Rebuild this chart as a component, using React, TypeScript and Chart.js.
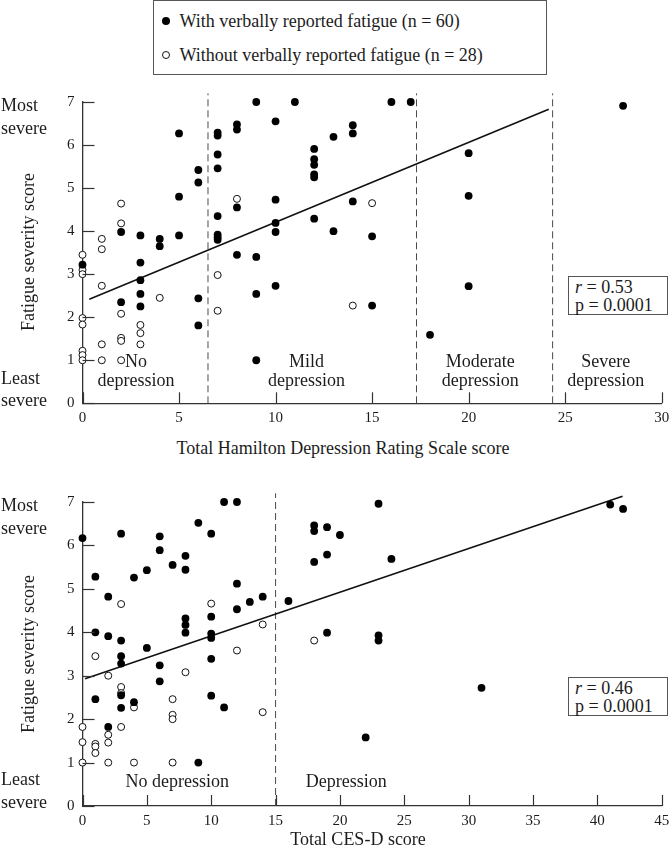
import React, { useEffect, useRef } from 'react';
import Chart from 'chart.js/auto';

// ---------- Data: Hamilton (top panel) ----------
const hamWithX = [0, 2, 2, 3, 3, 3, 3, 3, 4, 4, 5, 5, 5, 6, 6, 6, 6, 7, 7, 7, 7, 7, 7, 7, 7, 8, 8, 8, 8, 9, 9, 9, 9, 10, 10, 10, 10, 10, 11, 12, 12, 12, 12, 12, 12, 13, 13, 14, 14, 14, 15, 15, 16, 17, 18, 20, 20, 20, 28];
const hamWithY = [3.22, 3.98, 2.35, 3.9, 3.27, 2.86, 2.54, 2.25, 3.82, 3.65, 6.27, 4.8, 3.9, 5.42, 5.13, 2.44, 1.81, 6.29, 6.22, 5.78, 5.46, 4.35, 3.92, 3.86, 3.8, 6.48, 6.36, 4.55, 3.45, 7.0, 3.4, 2.54, 1.0, 6.55, 4.73, 4.19, 3.98, 2.73, 7.0, 5.91, 5.67, 5.54, 5.32, 5.25, 4.29, 6.19, 4.0, 6.46, 6.27, 4.69, 3.88, 2.27, 7.0, 7.0, 1.59, 5.81, 4.82, 2.72, 6.91];
const hamWithoutX = [0, 0, 0, 0, 0, 0, 0, 0, 1, 1, 1, 1, 1, 2, 2, 2, 2, 2, 2, 3, 3, 3, 4, 7, 7, 8, 14, 15];
const hamWithoutY = [3.45, 3.1, 3.0, 1.98, 1.83, 1.22, 1.12, 1.0, 3.82, 3.58, 2.73, 1.37, 1.0, 4.64, 4.18, 2.08, 1.52, 1.45, 1.0, 1.82, 1.63, 1.37, 2.45, 2.98, 2.15, 4.75, 2.27, 4.65];
const hamFitX = [0.35, 24.15];
const hamFitY = [2.42, 6.83];
const hamCutoffs = [6.5, 17.3, 24.35];
const hamZoneLabels = [['No', 'depression'], ['Mild', 'depression'], ['Moderate', 'depression'], ['Severe', 'depression']];
const hamStats = ['0.53', '0.0001'];

// ---------- Data: CES-D (bottom panel) ----------
const cesWithX = [0, 1, 1, 1, 2, 2, 2, 3, 3, 3, 3, 3, 3, 4, 4, 5, 5, 6, 6, 6, 6, 7, 8, 8, 8, 8, 8, 9, 9, 10, 10, 10, 10, 10, 10, 11, 11, 12, 12, 12, 13, 14, 16, 18, 18, 18, 19, 19, 19, 20, 22, 23, 23, 23, 24, 31, 41, 42];
const cesWithY = [6.17, 5.28, 4.0, 2.46, 4.82, 3.91, 1.82, 6.27, 3.81, 3.45, 3.28, 2.55, 2.26, 5.26, 2.39, 5.43, 3.64, 6.21, 5.89, 3.24, 2.87, 5.55, 5.76, 5.44, 4.32, 4.17, 3.99, 6.52, 1.0, 6.27, 4.36, 3.97, 3.87, 3.39, 2.54, 7.0, 2.27, 7.0, 5.12, 4.53, 4.7, 4.82, 4.72, 6.46, 6.33, 5.62, 6.42, 5.79, 3.99, 6.24, 1.58, 6.96, 3.93, 3.81, 5.69, 2.72, 6.94, 6.84];
const cesWithoutX = [0, 0, 0, 1, 1, 1, 1, 2, 2, 2, 2, 3, 3, 3, 3, 4, 4, 7, 7, 7, 7, 8, 10, 12, 14, 14, 18];
const cesWithoutY = [1.82, 1.47, 1.0, 3.45, 1.43, 1.37, 1.22, 3.0, 1.64, 1.46, 1.0, 4.65, 2.74, 2.6, 1.82, 2.27, 1.0, 2.46, 2.1, 2.0, 1.0, 3.08, 4.66, 3.58, 4.18, 2.16, 3.81];
const cesFitX = [0.2, 41.96];
const cesFitY = [2.93, 7.13];
const cesCutoffs = [15];
const cesZoneLabels = [['No depression'], ['Depression']];
const cesStats = ['0.46', '0.0001'];

const yTickMax = 7;
const legendLabels = ['With verbally reported fatigue (n = 60)', 'Without verbally reported fatigue (n = 28)'];

const FONT = '"Liberation Serif", "Times New Roman", serif';
const INK = '#1c1c1c';

type ZoneLayout = { x: number; y: number[] };

type PanelProps = {
  top: number;
  height: number;
  areaTop: number;
  areaBottom: number;
  xMax: number;
  withX: number[];
  withY: number[];
  withoutX: number[];
  withoutY: number[];
  fitX: number[];
  fitY: number[];
  cutoffs: number[];
  zoneLabels: string[][];
  zoneLayout: ZoneLayout[];
};

function Panel(p: PanelProps) {
  const ref = useRef<HTMLCanvasElement>(null);
  useEffect(() => {
    if (!ref.current) return;
    const toPts = (xs: number[], ys: number[]) => xs.map((x, i) => ({ x, y: ys[i] }));
    const datasets: any[] = [];
    p.cutoffs.forEach((c) => {
      datasets.push({
        data: [{ x: c, y: 0 }, { x: c, y: 7.2 }],
        showLine: true,
        borderColor: '#4a4a4a',
        borderWidth: 1,
        borderDash: [7, 4],
        pointRadius: 0,
        clip: false,
        order: 3,
      });
    });
    datasets.push({
      data: toPts(p.fitX, p.fitY),
      showLine: true,
      borderColor: '#111',
      borderWidth: 1.6,
      pointRadius: 0,
      clip: false,
      order: 2,
    });
    datasets.push({
      data: toPts(p.withoutX, p.withoutY),
      pointRadius: 3.5,
      pointBackgroundColor: '#fff',
      pointBorderColor: '#111',
      pointBorderWidth: 1,
      clip: false,
      order: 1,
    });
    datasets.push({
      data: toPts(p.withX, p.withY),
      pointRadius: 3.9,
      pointBackgroundColor: '#000',
      pointBorderColor: '#000',
      pointBorderWidth: 0,
      clip: false,
      order: 0,
    });

    const xAxisH = p.height - p.areaBottom;
    const decor = {
      id: 'decor',
      afterDraw(chart: any) {
        const { ctx, chartArea } = chart;
        const xs = chart.scales.x;
        const ys = chart.scales.y;
        ctx.save();
        ctx.strokeStyle = '#333';
        ctx.lineWidth = 1.2;
        xs.ticks.forEach((t: any) => {
          const px = Math.round(xs.getPixelForValue(t.value)) + 0.5;
          ctx.beginPath();
          ctx.moveTo(px, chartArea.bottom);
          ctx.lineTo(px, chartArea.bottom - 11);
          ctx.stroke();
        });
        ys.ticks.forEach((t: any) => {
          const py = Math.round(ys.getPixelForValue(t.value)) + 0.5;
          ctx.beginPath();
          ctx.moveTo(chartArea.left, py);
          ctx.lineTo(chartArea.left + 12, py);
          ctx.stroke();
        });
        ctx.fillStyle = INK;
        ctx.font = `18px ${FONT}`;
        ctx.textAlign = 'center';
        ctx.textBaseline = 'middle';
        p.zoneLabels.forEach((lines, i) => {
          const lay = p.zoneLayout[i];
          lines.forEach((line, j) => {
            ctx.fillText(line, xs.getPixelForValue(lay.x), ys.getPixelForValue(lay.y[j]));
          });
        });
        ctx.restore();
      },
    };

    const chart = new Chart(ref.current, {
      type: 'scatter',
      data: { datasets },
      options: {
        responsive: false,
        animation: false,
        events: [],
        layout: { padding: { top: p.areaTop, right: 670 - 661.7, left: 0, bottom: 0 } },
        plugins: { legend: { display: false }, tooltip: { enabled: false } },
        scales: {
          x: {
            type: 'linear',
            min: 0,
            max: p.xMax,
            grid: { display: false, drawTicks: false },
            border: { display: true, color: '#333', width: 1.3 },
            ticks: { stepSize: 5, padding: 6, color: INK, font: { family: FONT, size: 15 }, maxRotation: 0, autoSkip: false },
            afterFit(s: any) {
              s.height = xAxisH;
              s.paddingLeft = 0;
              s.paddingRight = 0;
            },
          },
          y: {
            type: 'linear',
            min: 0,
            max: yTickMax,
            grid: { display: false, drawTicks: false },
            border: { display: true, color: '#333', width: 1.3 },
            ticks: { stepSize: 1, padding: 8, color: INK, font: { family: FONT, size: 15 } },
            afterFit(s: any) {
              s.width = 82.5;
            },
          },
        },
      } as any,
      plugins: [decor],
    });
    return () => chart.destroy();
  }, []);
  return (
    <canvas
      ref={ref}
      width={670}
      height={p.height}
      style={{ position: 'absolute', left: 0, top: p.top, width: 670, height: p.height }}
    />
  );
}

const textStyle: React.CSSProperties = {
  position: 'absolute',
  fontFamily: FONT,
  fontSize: 18,
  color: INK,
  whiteSpace: 'nowrap',
  lineHeight: '18px',
};

function Centered({ x, y, children, rotate }: { x: number; y: number; children: React.ReactNode; rotate?: boolean }) {
  return (
    <div
      style={{
        ...textStyle,
        left: x,
        top: y,
        transform: `translate(-50%, -50%)${rotate ? ' rotate(-90deg)' : ''}`,
      }}
    >
      {children}
    </div>
  );
}

function LeftText({ x, y, children }: { x: number; y: number; children: React.ReactNode }) {
  return <div style={{ ...textStyle, left: x, top: y, transform: 'translateY(-50%)' }}>{children}</div>;
}

function StatsBox({ left, top, r, p }: { left: number; top: number; r: string; p: string }) {
  return (
    <div
      style={{
        position: 'absolute',
        left,
        top,
        width: 100,
        height: 39,
        boxSizing: 'border-box',
        border: '1px solid #555',
        background: '#fff',
        fontFamily: FONT,
        fontSize: 18,
        color: INK,
        lineHeight: '18px',
        padding: '1px 0 0 6px',
        whiteSpace: 'nowrap',
      }}
    >
      <div>
        <i>r</i> = {r}
      </div>
      <div>p = {p}</div>
    </div>
  );
}

export default function App() {
  return (
    <div style={{ position: 'absolute', left: 0, top: 0, width: 670, height: 853, background: '#fff', overflow: 'hidden' }}>
      {/* Legend */}
      <div
        style={{
          position: 'absolute',
          left: 152.5,
          top: 0,
          width: 394,
          height: 75,
          boxSizing: 'border-box',
          border: '1px solid #555',
          background: '#fff',
        }}
      />
      <div style={{ position: 'absolute', left: 162, top: 17, width: 8, height: 8, borderRadius: '50%', background: '#000' }} />
      <div
        style={{
          position: 'absolute',
          left: 162,
          top: 51,
          width: 8,
          height: 8,
          boxSizing: 'border-box',
          borderRadius: '50%',
          border: '1px solid #111',
          background: '#fff',
        }}
      />
      <LeftText x={179.5} y={21}>{legendLabels[0]}</LeftText>
      <LeftText x={179.5} y={55}>{legendLabels[1]}</LeftText>

      {/* Top panel */}
      <Panel
        top={85}
        height={345}
        areaTop={15}
        areaBottom={318.3}
        xMax={30}
        withX={hamWithX}
        withY={hamWithY}
        withoutX={hamWithoutX}
        withoutY={hamWithoutY}
        fitX={hamFitX}
        fitY={hamFitY}
        cutoffs={hamCutoffs}
        zoneLabels={hamZoneLabels}
        zoneLayout={[
          { x: 2.77, y: [0.95, 0.52] },
          { x: 11.6, y: [0.95, 0.52] },
          { x: 20.6, y: [0.95, 0.52] },
          { x: 27.1, y: [0.95, 0.52] },
        ]}
      />
      <LeftText x={1} y={105}>Most</LeftText>
      <LeftText x={1} y={128}>severe</LeftText>
      <LeftText x={1} y={378}>Least</LeftText>
      <LeftText x={1} y={400}>severe</LeftText>
      <Centered x={28} y={252} rotate>Fatigue severity score</Centered>
      <Centered x={343} y={448}>Total Hamilton Depression Rating Scale score</Centered>
      <StatsBox left={568} top={276} r={hamStats[0]} p={hamStats[1]} />

      {/* Bottom panel */}
      <Panel
        top={485}
        height={345}
        areaTop={17}
        areaBottom={321}
        xMax={45}
        withX={cesWithX}
        withY={cesWithY}
        withoutX={cesWithoutX}
        withoutY={cesWithoutY}
        fitX={cesFitX}
        fitY={cesFitY}
        cutoffs={cesCutoffs}
        zoneLabels={cesZoneLabels}
        zoneLayout={[
          { x: 7.37, y: [0.55] },
          { x: 20.5, y: [0.55] },
        ]}
      />
      <LeftText x={1} y={505}>Most</LeftText>
      <LeftText x={1} y={528}>severe</LeftText>
      <LeftText x={1} y={779}>Least</LeftText>
      <LeftText x={1} y={802}>severe</LeftText>
      <Centered x={28} y={654} rotate>Fatigue severity score</Centered>
      <Centered x={358} y={839}>Total CES-D score</Centered>
      <StatsBox left={568} top={677} r={cesStats[0]} p={cesStats[1]} />
    </div>
  );
}
